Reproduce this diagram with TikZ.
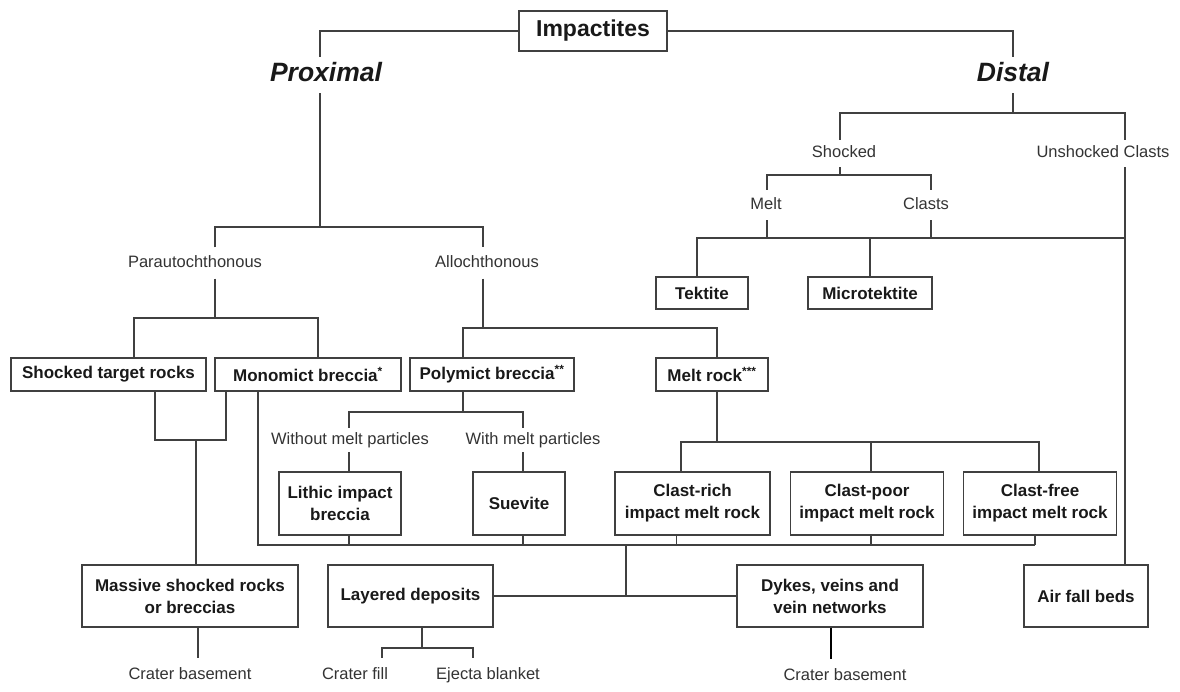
\documentclass[tikz,border=0pt]{standalone}
\usepackage{fontspec}
\setmainfont{Liberation Sans}
\begin{document}
\begin{tikzpicture}[x=1pt,y=-1pt,
  conn/.style={draw=black!75, line width=1.3pt},
  box/.style={draw=black!75, line width=1.3pt, align=center, inner sep=0pt,
    font=\fontsize{17}{22}\selectfont\bfseries, text=black!90},
  sz/.style 2 args={minimum width=#1pt, minimum height=#2pt},
  lab/.style={font=\fontsize{16.5}{20}\selectfont, text=black!80,
    text height=12pt, text depth=3.5pt, inner xsep=1pt},
  head/.style={font=\fontsize{26.5}{30}\selectfont\bfseries\itshape, text=black!90,
    text height=19pt, text depth=5.5pt, inner ysep=5.75pt}]
\useasboundingbox (0,0) rectangle (1180,691);

% ---- nodes ----
\node[box, sz={148}{40}, font=\fontsize{23}{26}\selectfont\bfseries] (imp) at (593,31) {Impactites};
\node[head] (prox) at (326,75) {Proximal};
\node[head] (dist) at (1013,75) {Distal};

\coordinate (jProx) at (320,227);
\node[lab, inner ysep=7.75pt] (para) at (195,263) {Parautochthonous};
\node[lab, inner ysep=7.75pt] (allo) at (487,263) {Allochthonous};
\coordinate (jPara) at (215,318);
\coordinate (jAllo) at (483,328);
\node[box, sz={195}{33}] (str) at (108.5,374.5) {Shocked target rocks};
\node[box, sz={186}{33}] (mono) at (308,374.5) {Monomict breccia\textsuperscript{*}};
\node[box, sz={164}{33}] (poly) at (492,374.5) {Polymict breccia\textsuperscript{**}};
\node[box, sz={112}{33}] (meltr) at (712,374.5) {Melt rock\textsuperscript{***}};

\coordinate (jSM) at (196,440);
\coordinate (jPoly) at (463,412);
\coordinate (jMR) at (717,442);
\node[lab, inner ysep=4.25pt] (wo) at (350,440) {Without melt particles};
\node[lab, inner ysep=4.25pt] (wi) at (533,440) {With melt particles};
\node[box, sz={122}{63}] (lith) at (340,503.5) {Lithic impact\\breccia};
\node[box, sz={92}{63}] (suev) at (519,503.5) {Suevite};
\node[box, sz={155}{63}] (crich) at (692.5,503.5) {Clast-rich\\impact melt rock};
\node[box, sz={153}{63}] (cpoor) at (867,503.5) {Clast-poor\\impact melt rock};
\node[box, sz={153}{63}] (cfree) at (1040,503.5) {Clast-free\\impact melt rock};
\coordinate (jBus) at (626,545);
\coordinate (bR) at (1035,545);

\node[box, sz={216}{62}] (mass) at (190,596) {Massive shocked rocks\\or breccias};
\node[box, sz={165}{62}] (lay) at (410.5,596) {Layered deposits};
\node[box, sz={186}{62}] (dyk) at (830,596) {Dykes, veins and\\vein networks};
\node[box, sz={124}{62}] (air) at (1086,596) {Air fall beds};

\node[lab, inner ysep=9.25pt] (cb1) at (190,675) {Crater basement};
\coordinate (jLay) at (422,648);
\node[lab, inner ysep=9.25pt] (cfill) at (355,675) {Crater fill};
\node[lab, inner ysep=9.25pt] (ejec) at (488,675) {Ejecta blanket};
\node[lab, inner ysep=9.25pt] (cb2) at (845,676) {Crater basement};

\coordinate (jDist) at (1013,113);
\node[lab, inner ysep=5.75pt] (shk) at (844,153.5) {Shocked};
\node[lab, inner ysep=5.75pt] (unsh) at (1103,153.5) {Unshocked Clasts};
\coordinate (jShk) at (840,175);
\node[lab, inner ysep=7.25pt] (meltd) at (766,205) {Melt};
\node[lab, inner ysep=7.25pt] (clas) at (926,205) {Clasts};
\coordinate (jMd) at (767,238);
\coordinate (jCl) at (931,238);
\coordinate (jMi) at (870,238);
\coordinate (jUD) at (1125,238);
\node[box, sz={92}{32}] (tek) at (702,293) {Tektite};
\node[box, sz={124}{32}] (micro) at (870,293) {Microtektite};

% ---- connectors ----
\draw[conn] (imp.west) -| ([xshift=-6pt]prox.north);
\draw[conn] (imp.east) -| (dist.north);
\draw[conn] ([xshift=-6pt]prox.south) -- (jProx);
\draw[conn] ([xshift=20pt]para.north) |- (jProx) -| ([xshift=-4pt]allo.north);
\draw[conn] ([xshift=20pt]para.south) -- (jPara);
\draw[conn] ([xshift=25.5pt]str.north) |- (jPara) -| ([xshift=10pt]mono.north);
\draw[conn] ([xshift=-4pt]allo.south) -- (jAllo);
\draw[conn] ([xshift=-29pt]poly.north) |- (jAllo) -| ([xshift=5pt]meltr.north);
\draw[conn] ([xshift=46.5pt]str.south) |- (jSM) -| ([xshift=-82pt]mono.south);
\draw[conn] (jSM) -- ([xshift=6pt]mass.north);
\draw[conn] ([xshift=-29pt]poly.south) -- (jPoly);
\draw[conn] ([xshift=-1pt]wo.north) |- (jPoly) -| ([xshift=-10pt]wi.north);
\draw[conn] ([xshift=-1pt]wo.south) -- ([xshift=9pt]lith.north);
\draw[conn] ([xshift=-10pt]wi.south) -- ([xshift=4pt]suev.north);
\draw[conn] ([xshift=5pt]meltr.south) -- (jMR);
\draw[conn] ([xshift=-11.5pt]crich.north) |- (jMR) -| ([xshift=-1pt]cfree.north);
\draw[conn] ([xshift=4pt]cpoor.north) -- ++(0,-30);
\draw[conn] ([xshift=-50pt]mono.south) |- (jBus) -- (bR);
\draw[conn] ([xshift=9pt]lith.south) -- ++(0,10);
\draw[conn] ([xshift=4pt]suev.south) -- ++(0,10);
\draw[conn] ([xshift=-16pt]crich.south) -- ++(0,10);
\draw[conn] ([xshift=4pt]cpoor.south) -- ++(0,10);
\draw[conn] ([xshift=-5pt]cfree.south) -- (bR);
\draw[conn] (jBus) -- (jBus |- lay.east);
\draw[conn] (lay.east) -- (dyk.west);
\draw[conn] ([xshift=8pt]mass.south) -- ([xshift=8pt]cb1.north);
\draw[conn] ([xshift=11.5pt]lay.south) -- (jLay);
\draw[conn] ([xshift=27pt]cfill.north) |- (jLay) -| ([xshift=-15pt]ejec.north);
\draw[conn, line width=2pt, draw=black] ([xshift=1pt]dyk.south) -- ([xshift=-14pt]cb2.north);

\draw[conn] (dist.south) -- (jDist);
\draw[conn] ([xshift=-4pt]shk.north) |- (jDist) -| ([xshift=22pt]unsh.north);
\draw[conn] ([xshift=-4pt]shk.south) -- (jShk);
\draw[conn] ([xshift=1pt]meltd.north) |- (jShk) -| ([xshift=5pt]clas.north);
\draw[conn] ([xshift=1pt]meltd.south) -- (jMd);
\draw[conn] ([xshift=5pt]clas.south) -- (jCl);
\draw[conn] ([xshift=-5pt]tek.north) |- (jUD);
\draw[conn] (micro.north) -- (jMi);
\draw[conn] ([xshift=22pt]unsh.south) -- ([xshift=39pt]air.north);
\end{tikzpicture}
\end{document}
